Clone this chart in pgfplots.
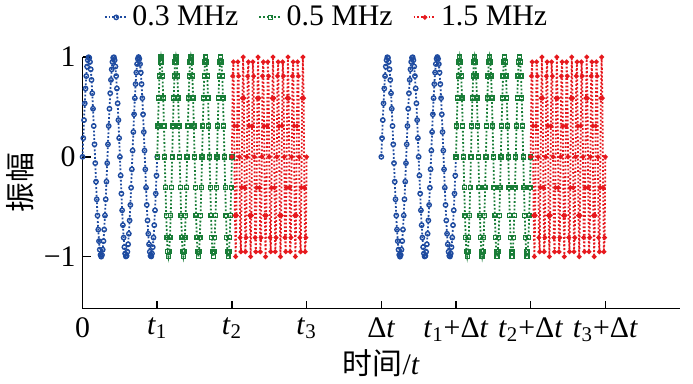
\documentclass[border=0pt]{standalone}
\usepackage{pgfplots}
\pgfplotsset{compat=1.18}
\usepackage{pgfplotstable}
\usepackage{fontspec}
\setmainfont{Liberation Serif}
\newfontfamily\cjk{Noto Sans CJK SC}
\definecolor{cblue}{RGB}{30,75,160}
\definecolor{cgreen}{RGB}{25,125,55}
\definecolor{cred}{RGB}{230,25,30}

\pgfplotstableread[row sep=\\]{
x y\\
0.00 0\\ 0.01 0.1874\\ 0.02 0.3681\\ 0.03 0.5358\\ 0.04 0.6845\\ 0.05 0.8090\\ 0.06 0.9048\\ 0.07 0.9686\\ 0.08 0.9980\\ 0.09 0.9921\\
0.10 0.9511\\ 0.11 0.8763\\ 0.12 0.7705\\ 0.13 0.6374\\ 0.14 0.4818\\ 0.15 0.3090\\ 0.16 0.1253\\ 0.17 -0.0628\\ 0.18 -0.2487\\ 0.19 -0.4258\\
0.20 -0.5878\\ 0.21 -0.7290\\ 0.22 -0.8443\\ 0.23 -0.9298\\ 0.24 -0.9823\\ 0.25 -1\\ 0.26 -0.9823\\ 0.27 -0.9298\\ 0.28 -0.8443\\ 0.29 -0.7290\\
0.30 -0.5878\\ 0.31 -0.4258\\ 0.32 -0.2487\\ 0.33 -0.0628\\ 0.34 0.1253\\ 0.35 0.3090\\ 0.36 0.4818\\ 0.37 0.6374\\ 0.38 0.7705\\ 0.39 0.8763\\
0.40 0.9511\\ 0.41 0.9921\\ 0.42 0.9980\\ 0.43 0.9686\\ 0.44 0.9048\\ 0.45 0.8090\\ 0.46 0.6845\\ 0.47 0.5358\\ 0.48 0.3681\\ 0.49 0.1874\\
0.50 0\\ 0.51 -0.1874\\ 0.52 -0.3681\\ 0.53 -0.5358\\ 0.54 -0.6845\\ 0.55 -0.8090\\ 0.56 -0.9048\\ 0.57 -0.9686\\ 0.58 -0.9980\\ 0.59 -0.9921\\
0.60 -0.9511\\ 0.61 -0.8763\\ 0.62 -0.7705\\ 0.63 -0.6374\\ 0.64 -0.4818\\ 0.65 -0.3090\\ 0.66 -0.1253\\ 0.67 0.0628\\ 0.68 0.2487\\ 0.69 0.4258\\
0.70 0.5878\\ 0.71 0.7290\\ 0.72 0.8443\\ 0.73 0.9298\\ 0.74 0.9823\\ 0.75 1\\ 0.76 0.9823\\ 0.77 0.9298\\ 0.78 0.8443\\ 0.79 0.7290\\
0.80 0.5878\\ 0.81 0.4258\\ 0.82 0.2487\\ 0.83 0.0628\\ 0.84 -0.1253\\ 0.85 -0.3090\\ 0.86 -0.4818\\ 0.87 -0.6374\\ 0.88 -0.7705\\ 0.89 -0.8763\\
0.90 -0.9511\\ 0.91 -0.9921\\ 0.92 -0.9980\\ 0.93 -0.9686\\ 0.94 -0.9048\\ 0.95 -0.8090\\ 0.96 -0.6845\\ 0.97 -0.5358\\ 0.98 -0.3681\\ 0.99 -0.1874\\
1.00 0\\
}\blue

\pgfplotstableread[row sep=\\]{
x y\\
1.00 0\\ 1.01 0.3090\\ 1.02 0.5878\\ 1.03 0.8090\\ 1.04 0.9511\\ 1.05 1\\ 1.06 0.9511\\ 1.07 0.8090\\ 1.08 0.5878\\ 1.09 0.3090\\
1.10 0\\ 1.11 -0.3090\\ 1.12 -0.5878\\ 1.13 -0.8090\\ 1.14 -0.9511\\ 1.15 -1\\ 1.16 -0.9511\\ 1.17 -0.8090\\ 1.18 -0.5878\\ 1.19 -0.3090\\
1.20 0\\ 1.21 0.3090\\ 1.22 0.5878\\ 1.23 0.8090\\ 1.24 0.9511\\ 1.25 1\\ 1.26 0.9511\\ 1.27 0.8090\\ 1.28 0.5878\\ 1.29 0.3090\\
1.30 0\\ 1.31 -0.3090\\ 1.32 -0.5878\\ 1.33 -0.8090\\ 1.34 -0.9511\\ 1.35 -1\\ 1.36 -0.9511\\ 1.37 -0.8090\\ 1.38 -0.5878\\ 1.39 -0.3090\\
1.40 0\\ 1.41 0.3090\\ 1.42 0.5878\\ 1.43 0.8090\\ 1.44 0.9511\\ 1.45 1\\ 1.46 0.9511\\ 1.47 0.8090\\ 1.48 0.5878\\ 1.49 0.3090\\
1.50 0\\ 1.51 -0.3090\\ 1.52 -0.5878\\ 1.53 -0.8090\\ 1.54 -0.9511\\ 1.55 -1\\ 1.56 -0.9511\\ 1.57 -0.8090\\ 1.58 -0.5878\\ 1.59 -0.3090\\
1.60 0\\ 1.61 0.3090\\ 1.62 0.5878\\ 1.63 0.8090\\ 1.64 0.9511\\ 1.65 1\\ 1.66 0.9511\\ 1.67 0.8090\\ 1.68 0.5878\\ 1.69 0.3090\\
1.70 0\\ 1.71 -0.3090\\ 1.72 -0.5878\\ 1.73 -0.8090\\ 1.74 -0.9511\\ 1.75 -1\\ 1.76 -0.9511\\ 1.77 -0.8090\\ 1.78 -0.5878\\ 1.79 -0.3090\\
1.80 0\\ 1.81 0.3090\\ 1.82 0.5878\\ 1.83 0.8090\\ 1.84 0.9511\\ 1.85 1\\ 1.86 0.9511\\ 1.87 0.8090\\ 1.88 0.5878\\ 1.89 0.3090\\
1.90 0\\ 1.91 -0.3090\\ 1.92 -0.5878\\ 1.93 -0.8090\\ 1.94 -0.9511\\ 1.95 -1\\ 1.96 -0.9511\\ 1.97 -0.8090\\ 1.98 -0.5878\\ 1.99 -0.3090\\
2.00 0\\
}\green

\pgfplotstableread[row sep=\\]{
x y\\
2.00 0\\ 2.01 0.8090\\ 2.02 0.9511\\ 2.03 0.3090\\ 2.04 -0.5878\\ 2.05 -1\\ 2.06 -0.5878\\ 2.07 0.3090\\ 2.08 0.9511\\ 2.09 0.8090\\
2.10 0\\ 2.11 -0.8090\\ 2.12 -0.9511\\ 2.13 -0.3090\\ 2.14 0.5878\\ 2.15 1\\ 2.16 0.5878\\ 2.17 -0.3090\\ 2.18 -0.9511\\ 2.19 -0.8090\\
2.20 0\\ 2.21 0.8090\\ 2.22 0.9511\\ 2.23 0.3090\\ 2.24 -0.5878\\ 2.25 -1\\ 2.26 -0.5878\\ 2.27 0.3090\\ 2.28 0.9511\\ 2.29 0.8090\\
2.30 0\\ 2.31 -0.8090\\ 2.32 -0.9511\\ 2.33 -0.3090\\ 2.34 0.5878\\ 2.35 1\\ 2.36 0.5878\\ 2.37 -0.3090\\ 2.38 -0.9511\\ 2.39 -0.8090\\
2.40 0\\ 2.41 0.8090\\ 2.42 0.9511\\ 2.43 0.3090\\ 2.44 -0.5878\\ 2.45 -1\\ 2.46 -0.5878\\ 2.47 0.3090\\ 2.48 0.9511\\ 2.49 0.8090\\
2.50 0\\ 2.51 -0.8090\\ 2.52 -0.9511\\ 2.53 -0.3090\\ 2.54 0.5878\\ 2.55 1\\ 2.56 0.5878\\ 2.57 -0.3090\\ 2.58 -0.9511\\ 2.59 -0.8090\\
2.60 0\\ 2.61 0.8090\\ 2.62 0.9511\\ 2.63 0.3090\\ 2.64 -0.5878\\ 2.65 -1\\ 2.66 -0.5878\\ 2.67 0.3090\\ 2.68 0.9511\\ 2.69 0.8090\\
2.70 0\\ 2.71 -0.8090\\ 2.72 -0.9511\\ 2.73 -0.3090\\ 2.74 0.5878\\ 2.75 1\\ 2.76 0.5878\\ 2.77 -0.3090\\ 2.78 -0.9511\\ 2.79 -0.8090\\
2.80 0\\ 2.81 0.8090\\ 2.82 0.9511\\ 2.83 0.3090\\ 2.84 -0.5878\\ 2.85 -1\\ 2.86 -0.5878\\ 2.87 0.3090\\ 2.88 0.9511\\ 2.89 0.8090\\
2.90 0\\ 2.91 -0.8090\\ 2.92 -0.9511\\ 2.93 -0.3090\\ 2.94 0.5878\\ 2.95 1\\ 2.96 0.5878\\ 2.97 -0.3090\\ 2.98 -0.9511\\ 2.99 -0.8090\\
3.00 0\\
}\red

\begin{document}
\begin{tikzpicture}[font=\fontsize{15}{17}\selectfont]
\begin{axis}[
  name=ax,
  scale only axis,
  width=300.5pt, height=126.5pt,
  xmin=0, xmax=8, ymin=-1.52, ymax=1,
  axis x line=bottom, axis y line=left,
  axis line style={-, line width=0.8pt},
  tick align=inside,
  major tick length=4pt,
  tick style={line width=0.8pt, black},
  xtick={0,1,2,3,4,5,6,7},
  xticklabels={0, \textit{t}\textsubscript{1}, \textit{t}\textsubscript{2}, \textit{t}\textsubscript{3}, Δ\textit{t}, \textit{t}\textsubscript{1}+Δ\textit{t}, \textit{t}\textsubscript{2}+Δ\textit{t}, \textit{t}\textsubscript{3}+Δ\textit{t}},
  ytick={-1,0,1},
  yticklabels={−1,0,1},
  xticklabel style={yshift=-1pt},
  xlabel={{\cjk 时间}/\textit{t}},
  ylabel={{\cjk 振幅}},
  xlabel style={yshift=3pt},
  ylabel style={yshift=-2pt},
  legend columns=3,
  legend style={at={(0.41,1)}, anchor=south, yshift=11pt, draw=none, fill=none,
    inner sep=1pt,
    /tikz/every even column/.append style={column sep=8pt}, font=\fontsize{15}{17}\selectfont},
  legend cell align=left,
  legend image code/.code={\draw[mark repeat=2,mark phase=2] plot coordinates {(0cm,0cm)(0.2cm,0cm)(0.4cm,0cm)};},
  every axis plot/.append style={densely dotted, line width=0.9pt},
  clip=false,
]
\addplot[cblue, mark=o, mark size=1.1pt, mark options={solid, line width=0.7pt}] table[x=x,y=y] {\blue};
\addlegendentry{0.3 MHz}
\addplot[cgreen, mark=square, mark size=1pt, mark options={solid, line width=0.7pt}] table[x=x,y=y] {\green};
\addlegendentry{0.5 MHz}
\addplot[cred, mark=*, mark size=0.7pt, mark options={solid}] table[x=x,y=y] {\red};
\addlegendentry{1.5 MHz}
\addplot[cblue, mark=o, mark size=1.1pt, mark options={solid, line width=0.7pt}, forget plot] table[x expr=\thisrow{x}+4,y=y] {\blue};
\addplot[cgreen, mark=square, mark size=1pt, mark options={solid, line width=0.7pt}, forget plot] table[x expr=\thisrow{x}+4,y=y] {\green};
\addplot[cred, mark=*, mark size=0.7pt, mark options={solid}, forget plot] table[x expr=\thisrow{x}+4,y=y] {\red};
\end{axis}
\path ([xshift=6.5pt]ax.south east);
\end{tikzpicture}
\end{document}
